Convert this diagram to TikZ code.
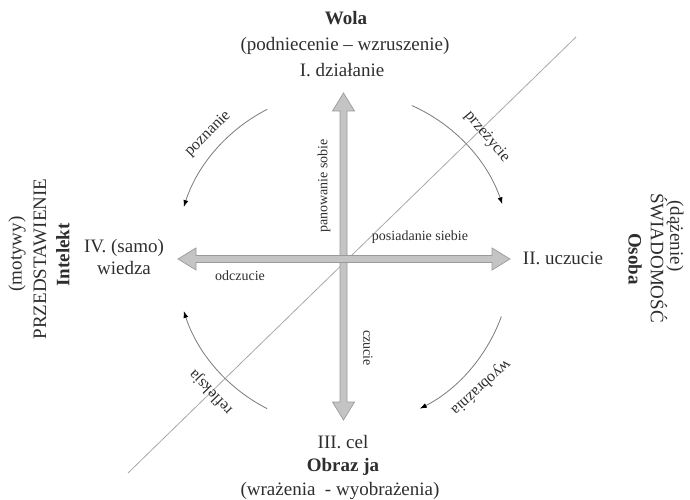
\documentclass[tikz,border=0pt]{standalone}
\usepackage{fontspec}
\setmainfont{Liberation Serif}
\usetikzlibrary{arrows.meta,calc}
\definecolor{txt}{HTML}{2E2E2E}
\definecolor{axfill}{HTML}{C4C4C4}
\definecolor{axdraw}{HTML}{9A9A9A}
\definecolor{arcgray}{HTML}{7A7A7A}
\definecolor{diag}{HTML}{A8A8A8}
\tikzset{
  big/.style={font=\fontsize{19}{22}\selectfont, text=txt, inner sep=0pt},
  lab/.style={font=\fontsize{14}{16}\selectfont, text=txt, inner sep=0pt},
  arclab/.style={font=\fontsize{16}{18}\selectfont, text=txt, inner sep=0pt},
  axarrow/.style={fill=axfill, draw=axdraw, line width=0.7pt, line join=miter},
  arcline/.style={draw=arcgray, line width=0.8pt, -{Latex[length=7pt,width=5pt,color=black]}},
  diagline/.style={draw=diag, line width=0.8pt}
}
\begin{document}
\begin{tikzpicture}[x=1pt,y=1pt]
\useasboundingbox (0,0) rectangle (690,499);
% key points
\coordinate (C) at (343.5,240);
\coordinate (N) at (343.5,406);
\coordinate (S) at (343.5,79);
\coordinate (W) at (178,240);
\coordinate (E) at (510,240);
\coordinate (dA) at (128,26);
\coordinate (dB) at (576,462);
% diagonal
\draw[diagline] (dA) -- (dB);
% vertical double arrow
\filldraw[axarrow] (N) -- ++(11,-18) -- ++(-7.5,0) -- ($(S)+(3.5,18)$) -- ++(7.5,0) -- (S)
  -- ++(-11,18) -- ++(7.5,0) -- ($(N)+(-3.5,-18)$) -- ++(-7.5,0) -- cycle;
% horizontal double arrow
\filldraw[axarrow] (E) -- ++(-18,11) -- ++(0,-7.5) -- ($(W)+(18,3.5)$) -- ++(0,7.5) -- (W)
  -- ++(18,-11) -- ++(0,7.5) -- ($(E)+(-18,-3.5)$) -- ++(0,-7.5) -- cycle;
\fill[axfill] ($(C)+(-3.15,-3.15)$) rectangle ($(C)+(3.15,3.15)$);
% arcs
\draw[arcline] ([shift={(C)}]117:168pt) arc[start angle=117, end angle=162, radius=168pt];
\draw[arcline] ([shift={(C)}]66:168pt) arc[start angle=66, end angle=19, radius=168pt];
\draw[arcline] ([shift={(C)}]-20:168pt) arc[start angle=-20, end angle=-63, radius=168pt];
\draw[arcline] ([shift={(C)}]243:168pt) arc[start angle=243, end angle=198, radius=168pt];
% arc labels
\node[arclab, rotate=45] (poz) at (208,365) {poznanie};
\node[arclab, rotate=-50] (prz) at (487,362) {przeżycie};
\node[arclab, rotate=222] (wyo) at (481,112) {wyobraźnia};
\node[arclab, rotate=134] (ref) at (211,107) {refleksja};
% axis labels
\node[lab] (pos) at (420,262) {posiadanie siebie};
\node[lab] (odc) at (240,223) {odczucie};
\node[lab, rotate=90] (pan) at (324,313) {panowanie sobie};
\node[lab, rotate=-90] (czu) at (368,151) {czucie};
% top
\node[big, font=\fontsize{19}{22}\selectfont\bfseries] (wola) at (346,481) {Wola};
\node[big] (podn) at (345,453) {(podniecenie – wzruszenie)};
\node[big] (dzial) at (342,429) {I. działanie};
% bottom
\node[big] (cel) at (343,57) {III. cel};
\node[big, font=\fontsize{19}{22}\selectfont\bfseries] (obraz) at (343,32) {Obraz ja};
\node[big] (wraz) at (340,8) {(wrażenia\ \ - wyobrażenia)};
% left
\node[big] (samo) at (124,251) {IV. (samo)};
\node[big] (wiedza) at (124,231) {wiedza};
\node[big, rotate=90] (mot) at (17,245) {(motywy)};
\node[big, rotate=90] (prze) at (40,240) {PRZEDSTAWIENIE};
\node[big, rotate=90, font=\fontsize{19}{22}\selectfont\bfseries] (intel) at (63,244) {Intelekt};
% right
\node[big] (ucz) at (563,241) {II. uczucie};
\node[big, rotate=-90] (daz) at (675,263) {(dążenie)};
\node[big, rotate=-90] (swiad) at (659,241) {ŚWIADOMOŚĆ};
\node[big, rotate=-90, font=\fontsize{19}{22}\selectfont\bfseries] (osoba) at (635,240) {Osoba};
\end{tikzpicture}
\end{document}
